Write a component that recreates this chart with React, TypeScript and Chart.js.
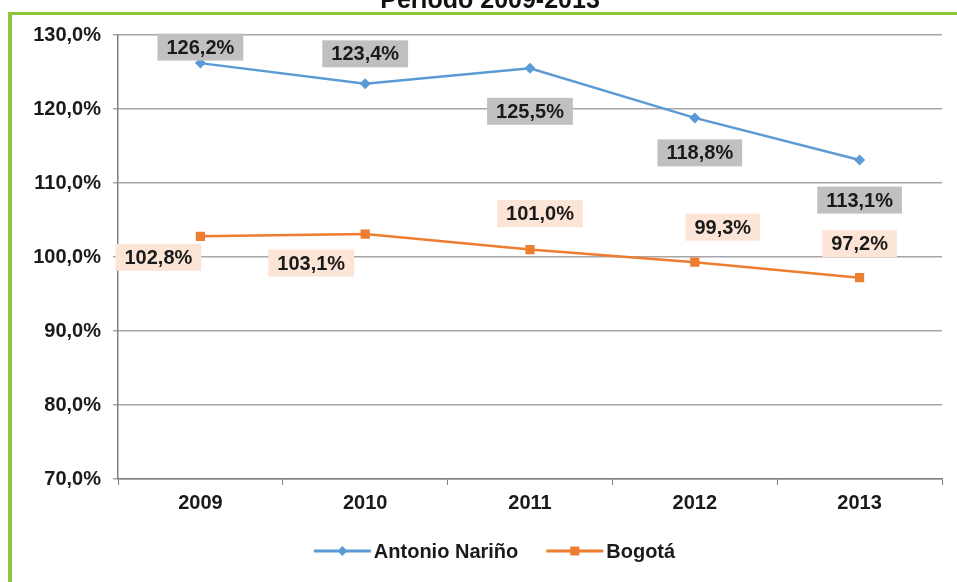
import React, { useEffect, useRef } from "react";
import { Chart, registerables } from "chart.js";

Chart.register(...registerables);

const years = ["2009", "2010", "2011", "2012", "2013"];
const antonioNarino = [126.2, 123.4, 125.5, 118.8, 113.1];
const bogota = [102.8, 103.1, 101.0, 99.3, 97.2];
const seriesNames = ["Antonio Nariño", "Bogotá"];
const titleText = "Periodo 2009-2013";

const BLUE = "#5b9bd5";
const ORANGE = "#ed7d31";
const FONT = "'Liberation Sans', Arial, sans-serif";

// label box center offsets (px) relative to each point: [dx, dy]
const labelOffsets = [
  [[0, -16], [0, -30], [0, 43], [5, 35], [0, 40]],
  [[-42, 21], [-54, 29], [10, -36], [28, -35], [0, -34]],
];
const labelBg = ["#c0c0c0", "#fce4d6"];

const fmt = (v: number) => v.toFixed(1).replace(".", ",") + "%";

const decorPlugin = {
  id: "decor",
  beforeDraw(chart: any) {
    const ctx = chart.ctx;
    ctx.save();
    ctx.fillStyle = "#ffffff";
    ctx.fillRect(0, 0, chart.width, chart.height);
    ctx.fillStyle = "#8cc63e";
    ctx.fillRect(8, 12, chart.width - 8, 3);
    ctx.fillRect(8, 12, 4, chart.height - 12);
    ctx.fillStyle = "#111";
    ctx.font = `bold 25px ${FONT}`;
    ctx.textAlign = "center";
    ctx.textBaseline = "alphabetic";
    ctx.fillText(titleText, 490, 8);
    ctx.restore();
  },
};

const legendPlugin = {
  id: "lineLegend",
  afterDraw(chart: any) {
    const ctx = chart.ctx;
    ctx.save();
    ctx.font = `bold 20px ${FONT}`;
    ctx.textBaseline = "middle";
    ctx.textAlign = "left";
    const lineW = 57;
    const gapText = 3;
    const gapItem = 28;
    const ds = chart.data.datasets;
    let total = 0;
    ds.forEach((d: any, i: number) => {
      total += lineW + gapText + ctx.measureText(d.label).width + (i < ds.length - 1 ? gapItem : 0);
    });
    let x = chart.width / 2 + 16 - total / 2;
    const y = 551;
    ds.forEach((d: any, i: number) => {
      ctx.strokeStyle = d.borderColor;
      ctx.lineWidth = 3;
      ctx.beginPath();
      ctx.moveTo(x, y);
      ctx.lineTo(x + lineW, y);
      ctx.stroke();
      ctx.fillStyle = d.borderColor;
      const mx = x + lineW / 2;
      ctx.beginPath();
      if (d.pointStyle === "rectRot") {
        ctx.moveTo(mx, y - 5);
        ctx.lineTo(mx + 5, y);
        ctx.lineTo(mx, y + 5);
        ctx.lineTo(mx - 5, y);
        ctx.closePath();
      } else {
        ctx.rect(mx - 4.5, y - 4.5, 9, 9);
      }
      ctx.fill();
      x += lineW + gapText;
      ctx.fillStyle = "#1a1a1a";
      ctx.fillText(d.label, x, y + 1);
      x += ctx.measureText(d.label).width + gapItem;
    });
    ctx.restore();
  },
};

const labelPlugin = {
  id: "boxLabels",
  afterDatasetsDraw(chart: any) {
    const ctx = chart.ctx;
    ctx.save();
    ctx.font = `bold 20px ${FONT}`;
    ctx.textAlign = "center";
    ctx.textBaseline = "middle";
    chart.data.datasets.forEach((ds: any, di: number) => {
      const meta = chart.getDatasetMeta(di);
      meta.data.forEach((pt: any, i: number) => {
        const txt = fmt(ds.data[i]);
        const [dx, dy] = labelOffsets[di][i];
        const cx = pt.x + dx;
        const cy = pt.y + dy;
        const w = ctx.measureText(txt).width + 18;
        const h = 27;
        ctx.fillStyle = labelBg[di];
        ctx.fillRect(cx - w / 2, cy - h / 2, w, h);
        ctx.fillStyle = "#1a1a1a";
        ctx.fillText(txt, cx, cy + 1);
      });
    });
    ctx.restore();
  },
};

export default function App() {
  const ref = useRef<HTMLCanvasElement>(null);
  useEffect(() => {
    const chart = new Chart(ref.current!, {
      type: "line",
      data: {
        labels: years,
        datasets: [
          {
            label: seriesNames[0],
            data: antonioNarino,
            borderColor: BLUE,
            backgroundColor: BLUE,
            borderWidth: 2.5,
            pointStyle: "rectRot",
            pointRadius: 5.5,
            pointBorderWidth: 0,
            tension: 0,
          },
          {
            label: seriesNames[1],
            data: bogota,
            borderColor: ORANGE,
            backgroundColor: ORANGE,
            borderWidth: 2.5,
            pointStyle: "rect",
            pointRadius: 6.5,
            pointBorderWidth: 0,
            tension: 0,
          },
        ],
      },
      options: {
        animation: false,
        responsive: false,
        layout: { padding: { left: 0, right: 15, top: 35, bottom: 67 } },
        plugins: {
          tooltip: { enabled: false },
          legend: { display: false },
        },
        scales: {
          x: {
            offset: true,
            grid: {
              display: true,
              drawOnChartArea: false,
              drawTicks: true,
              tickLength: 6,
              color: "#808080",
              offset: true,
            },
            border: { color: "#808080", width: 1.5 },
            ticks: {
              color: "#1a1a1a",
              font: { family: FONT, size: 20, weight: "bold" },
              padding: 6,
            },
            afterFit: (s: any) => {
              s.height = 36;
            },
          },
          y: {
            min: 70,
            max: 130,
            ticks: {
              stepSize: 10,
              color: "#1a1a1a",
              font: { family: FONT, size: 20, weight: "bold" },
              padding: 12,
              callback: (v: any) => fmt(Number(v)),
            },
            grid: { color: "#a6a6a6", lineWidth: 1.5, tickLength: 5 },
            border: { color: "#808080", width: 1.5 },
            afterFit: (s: any) => {
              s.width = 118;
            },
          },
        },
      },
      plugins: [decorPlugin, labelPlugin, legendPlugin],
    });
    return () => chart.destroy();
  }, []);
  return (
    <div style={{ position: "fixed", left: 0, top: 0, width: 957, height: 582 }}>
      <canvas ref={ref} width={957} height={582} />
    </div>
  );
}
